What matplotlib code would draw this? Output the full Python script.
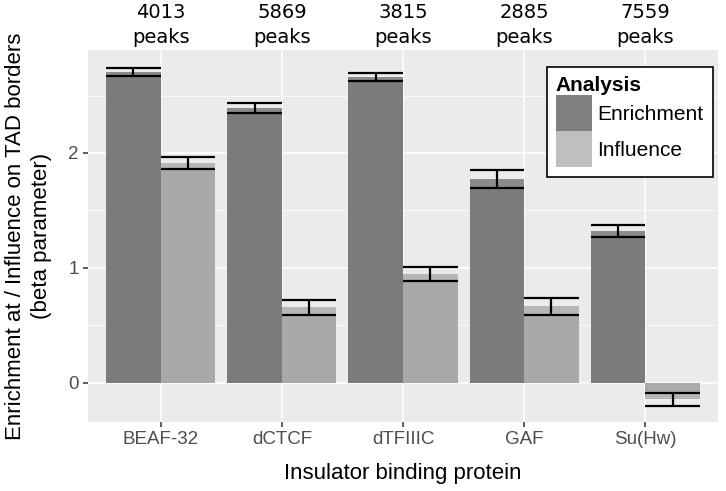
import matplotlib
matplotlib.use("Agg")
import matplotlib.pyplot as plt
import numpy as np
from matplotlib.patches import Patch

proteins = ["BEAF-32", "dCTCF", "dTFIIIC", "GAF", "Su(Hw)"]
peaks = [4013, 5869, 3815, 2885, 7559]
enrichment = [2.704, 2.393, 2.661, 1.774, 1.322]
enrichment_err = [0.036, 0.042, 0.035, 0.077, 0.050]
influence = [1.916, 0.657, 0.945, 0.665, -0.145]
influence_err = [0.052, 0.065, 0.064, 0.074, 0.058]

fig = plt.figure(figsize=(7.26, 4.91), dpi=100)
ax = fig.add_axes([0.1212, 0.1405, 0.989 - 0.1212, 0.8982 - 0.1405])
ax.set_facecolor("#ebebeb")

x = np.arange(len(proteins))
bw = 0.45
series = [
    (enrichment, enrichment_err, -bw / 2, "#7b7b7b", "#8b8b8b"),
    (influence, influence_err, bw / 2, "#a9a9a9", "#b7b7b7"),
]
for vals, errs, off, dark, light in series:
    vals = np.array(vals); errs = np.array(errs)
    ax.bar(x + off, vals, width=bw, color=light, zorder=2)
    inner = np.where(vals >= 0, vals - errs, vals + errs)
    ax.bar(x + off, inner, width=bw, color=dark, zorder=2)
    ax.vlines(x + off, vals - errs, vals + errs, color="black", linewidth=1.6, zorder=3)
    ax.hlines(vals - errs, x + off - bw / 2, x + off + bw / 2, color="black", linewidth=1.6, zorder=3)
    ax.hlines(vals + errs, x + off - bw / 2, x + off + bw / 2, color="black", linewidth=1.6, zorder=3)

ax.set_xlim(-0.6, 4.6)
ax.set_ylim(-0.344, 2.897)
ax.set_yticks([0, 1, 2])
ax.set_yticks([0.5, 1.5, 2.5], minor=True)
ax.set_xticks(x)
ax.set_xticklabels(proteins)
ax.grid(which="major", color="white", linewidth=1.1, zorder=0)
ax.grid(which="minor", axis="y", color="white", linewidth=0.55, zorder=0)
ax.set_axisbelow(True)
for s in ax.spines.values():
    s.set_visible(False)
ax.tick_params(axis="both", which="major", length=3.5, width=1.1, color="#333333",
               labelcolor="#4d4d4d", labelsize=13.5, pad=3)
ax.tick_params(axis="y", which="minor", length=0)
for lbl in ax.get_xticklabels() + ax.get_yticklabels():
    lbl.set_family("Liberation Sans")

ax.set_xlabel("Insulator binding protein", family="Liberation Sans", fontsize=16, labelpad=11)
ax.set_ylabel("Enrichment at / Influence on TAD borders\n(beta parameter)",
              family="Liberation Sans", fontsize=16, labelpad=12, linespacing=1.3)

for i, p in enumerate(peaks):
    ax.annotate(f"{p}\npeaks", xy=(i, 1.0), xycoords=("data", "axes fraction"),
                xytext=(0, 5), textcoords="offset points",
                ha="center", va="baseline", fontsize=14, family="DejaVu Sans",
                linespacing=1.38, annotation_clip=False)

fs = 15
handles = [Patch(facecolor="#7f7f7f", label="Enrichment"),
           Patch(facecolor="#bfbfbf", label="Influence")]
leg = ax.legend(handles=handles, title="Analysis", loc="upper right",
                bbox_to_anchor=(0.9916, 0.955), borderaxespad=0, frameon=True,
                fancybox=False, edgecolor="black", framealpha=1,
                handlelength=1.73, handleheight=2.29,
                handletextpad=0.25, borderpad=0.45, labelspacing=0.0,
                prop={"family": "Liberation Sans", "size": fs})
leg.get_frame().set_linewidth(1.2)
leg.get_title().set_fontweight("bold")
leg.get_title().set_family("Liberation Sans")
leg.get_title().set_fontsize(fs)
leg._legend_box.align = "left"

fig.savefig("out.png", dpi=100)
